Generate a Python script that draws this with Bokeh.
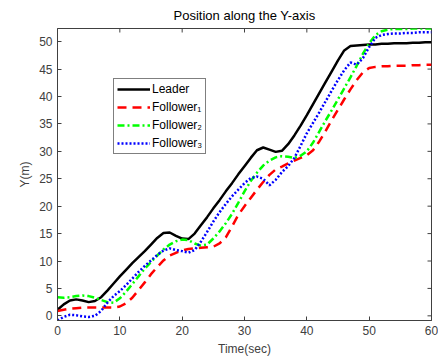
import math
from bokeh.plotting import figure
from bokeh.models import Legend, LegendItem, FixedTicker, Range1d
from bokeh.embed import file_html
from bokeh.resources import INLINE

# ---- data ----
t = list(range(0, 61))

leader = [1.1, 2.1, 2.8, 3.0, 2.8, 2.5, 2.7, 3.4, 4.6, 5.9,
          7.2, 8.4, 9.6, 10.7, 11.8, 13.0, 14.2, 15.1, 15.2, 14.6,
          14.1, 14.0, 15.0, 16.5, 18.0, 19.6, 21.1, 22.7, 24.2, 25.8,
          27.3, 28.8, 30.2, 30.7, 30.3, 29.9, 30.1, 31.3, 32.9, 34.7,
          36.6, 38.6, 40.6, 42.6, 44.6, 46.6, 48.4, 49.2, 49.3, 49.4,
          49.5, 49.5, 49.6, 49.6, 49.7, 49.7, 49.7, 49.8, 49.8, 49.9,
          49.9]

follower1 = [0.9, 1.1, 1.3, 1.4, 1.5, 1.5, 1.5, 1.5, 1.5, 1.5,
             1.7, 2.3, 3.3, 4.7, 6.1, 7.6, 8.9, 10.1, 11.0, 11.5,
             11.9, 12.2, 12.3, 12.4, 12.5, 12.6, 13.2, 14.3, 16.3, 18.4,
             20.0, 21.5, 23.0, 24.4, 25.7, 26.7, 27.2, 27.8, 28.3, 28.8,
             29.3, 30.2, 31.8, 33.7, 35.7, 37.6, 39.5, 41.3, 43.0, 44.4,
             45.2, 45.4, 45.5, 45.5, 45.6, 45.6, 45.6, 45.7, 45.7, 45.8,
             45.8]

follower2 = [3.4, 3.3, 3.4, 3.6, 3.7, 3.6, 3.3, 2.9, 2.5, 2.4,
             3.2, 4.4, 5.8, 7.2, 8.6, 9.8, 11.0, 12.1, 13.0, 13.6,
             13.9, 13.8, 13.2, 12.8, 13.0, 14.1, 15.4, 16.9, 18.6, 20.6,
             22.7, 24.6, 26.1, 27.4, 28.3, 28.9, 29.1, 29.0, 28.8, 29.2,
             30.0, 31.6, 33.6, 35.6, 37.5, 39.5, 41.5, 43.5, 45.6, 47.8,
             49.7, 51.2, 51.9, 52.2, 52.3, 52.3, 52.3, 52.4, 52.4, 52.4,
             52.4]

follower3 = [-0.85, -0.2, 0.2, 0.1, -0.1, -0.2, 0.0, 0.9, 2.4, 3.6,
             4.5, 5.6, 6.8, 8.0, 9.1, 10.1, 11.1, 11.9, 12.3, 12.0,
             11.8, 11.5, 12.0, 13.5, 15.3, 17.2, 18.9, 20.4, 21.8, 23.0,
             24.2, 25.1, 25.4, 25.0, 23.8, 24.8, 26.2, 27.3, 28.8, 31.0,
             33.3, 35.2, 37.1, 39.1, 41.1, 43.0, 44.8, 46.2, 45.8, 47.0,
             49.0, 50.7, 51.2, 51.4, 51.5, 51.5, 51.6, 51.6, 51.7, 51.7,
             51.7]

series_names = ["Leader", "Follower\u2081", "Follower\u2082", "Follower\u2083"]
x_ticks = [0, 10, 20, 30, 40, 50, 60]
y_ticks = [0, 5, 10, 15, 20, 25, 30, 35, 40, 45, 50]
x_lim = (0, 60)
y_lim = (-0.85, 52.4)

FONT = "Liberation Sans"
AX = "#404040"

p = figure(width=438, height=358, output_backend="svg", toolbar_location=None,
           x_range=Range1d(*x_lim), y_range=Range1d(*y_lim),
           min_border_left=57, min_border_right=7, min_border_top=28,
           min_border_bottom=36, title="Position along the Y-axis")
p.background_fill_color = "white"
p.border_fill_color = "white"
p.outline_line_color = AX
p.title.align = "center"
p.title.text_font = FONT
p.title.text_font_size = "13px"
p.title.text_font_style = "normal"
p.title.text_color = "black"
p.title.standoff = 11
p.xgrid.visible = False
p.ygrid.visible = False

for ax in (p.xaxis[0], p.yaxis[0]):
    ax.major_tick_in = 4
    ax.major_tick_out = 0
    ax.minor_tick_line_color = None
    ax.axis_line_color = AX
    ax.major_tick_line_color = AX
    ax.major_label_text_font = FONT
    ax.major_label_text_font_size = "12px"
    ax.major_label_text_color = AX
    ax.axis_label_text_font = FONT
    ax.axis_label_text_font_size = "12px"
    ax.axis_label_text_font_style = "normal"
    ax.axis_label_text_color = AX
    ax.major_label_standoff = 5
p.xaxis[0].ticker = FixedTicker(ticks=x_ticks)
p.yaxis[0].ticker = FixedTicker(ticks=y_ticks)
p.xaxis[0].axis_label = "Time(sec)"
p.yaxis[0].axis_label = "Y(m)"
p.xaxis[0].axis_label_standoff = 4
p.yaxis[0].axis_label_standoff = 4

# inward ticks on the right and top edges of the box (MATLAB style)
p.ray(x=[x_lim[1]] * len(y_ticks), y=y_ticks, length=4, length_units="screen",
      angle=math.pi, line_color=AX, line_width=1)
p.ray(x=x_ticks, y=[y_lim[1]] * len(x_ticks), length=4, length_units="screen",
      angle=-math.pi / 2, line_color=AX, line_width=1)

r0 = p.line(t, leader, line_color="black", line_width=2.5)
r1 = p.line(t, follower1, line_color="#ff0000", line_width=2.5, line_dash="9 6")
r2 = p.line(t, follower2, line_color="#00ff00", line_width=2.5, line_dash="7 3 2 3")
r3 = p.line(t, follower3, line_color="#0000ff", line_width=2.5, line_dash="2 2")

legend = Legend(items=[LegendItem(label=n, renderers=[r]) for n, r in
                       zip(series_names, [r0, r1, r2, r3])],
                location=(56, 166), orientation="vertical")
legend.label_text_font = FONT
legend.label_text_font_size = "12px"
legend.label_text_color = "black"
legend.glyph_width = 33
legend.glyph_height = 14
legend.label_height = 14
legend.label_standoff = 2
legend.padding = 3
legend.spacing = 4
legend.margin = 0
legend.border_line_color = "black"
legend.border_line_width = 1
legend.background_fill_color = "white"
legend.background_fill_alpha = 1
p.add_layout(legend, "center")

open("out.html", "w").write(file_html(p, INLINE))
